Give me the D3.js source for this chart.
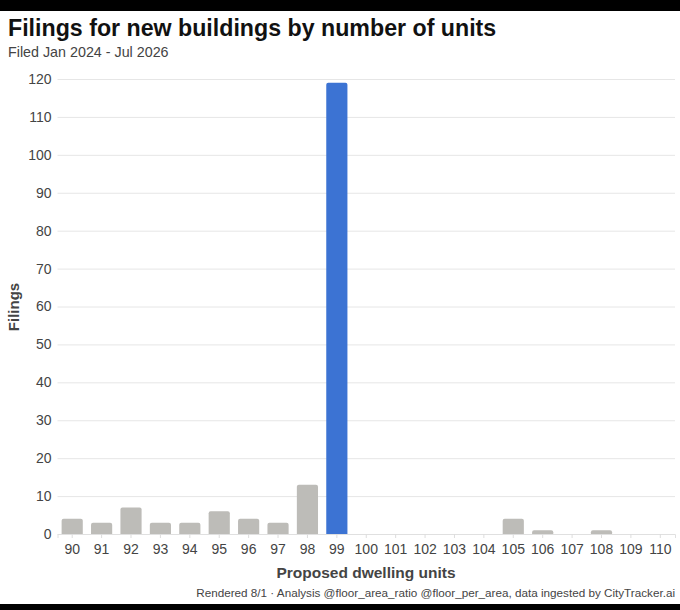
<!DOCTYPE html>
<html><head><meta charset="utf-8">
<script src="https://cdn.jsdelivr.net/npm/d3@7"></script>
<style>
html,body{margin:0;padding:0;background:#000;}
svg{display:block;}
</style></head>
<body>
<svg id="c" width="680" height="610"></svg>
<script>
const categories = ["90","91","92","93","94","95","96","97","98","99","100","101","102","103","104","105","106","107","108","109","110"];
const filings = [4,3,7,3,3,6,4,3,13,119,0,0,0,0,0,4,1,0,1,0,0];
const highlight = "99";
const yTicks = [0,10,20,30,40,50,60,70,80,90,100,110,120];

const svg = d3.select("#c");
const font = "'Liberation Sans', Arial, Helvetica, sans-serif";
svg.append("rect").attr("x",0).attr("y",11).attr("width",680).attr("height",593).attr("fill","#fff");

const x = d3.scaleBand().domain(categories).range([57.5,675]).paddingInner(0.28).paddingOuter(0.14);
const y = d3.scaleLinear().domain([0,120]).range([534,79]);

svg.append("text").attr("x",8).attr("y",36).attr("font-family",font).attr("font-weight","bold")
  .attr("font-size",23.2).attr("fill","#111").text("Filings for new buildings by number of units");
svg.append("text").attr("x",8).attr("y",57).attr("font-family",font)
  .attr("font-size",14.3).attr("fill","#444").text("Filed Jan 2024 - Jul 2026");

// grid
const ya = svg.append("g").attr("transform","translate(57.5,0)")
  .call(d3.axisLeft(y).tickValues(yTicks).tickSize(-(675-57.5)).tickPadding(6));
ya.select(".domain").remove();
ya.selectAll(".tick line").attr("stroke","#e6e6e6");
ya.selectAll(".tick text").attr("font-family",font).attr("font-size",14).attr("fill","#444");
ya.selectAll(".tick").filter(d=>d===0).select("line").attr("stroke","#ddd");

// bars
const r = 2;
svg.append("g").selectAll("path").data(categories.map((c,i)=>({c,v:filings[i]})).filter(d=>d.v>0))
  .join("path")
  .attr("d",d=>{
    const x0=x(d.c), w=x.bandwidth(), y0=y(d.v), y1=y(0);
    const rr=Math.min(r,(y1-y0));
    return `M${x0},${y1}V${y0+rr}Q${x0},${y0} ${x0+rr},${y0}H${x0+w-rr}Q${x0+w},${y0} ${x0+w},${y0+rr}V${y1}Z`;
  })
  .attr("fill",d=>d.c===highlight?"#3c73d3":"#bdbcb8");

// x axis
const xa = svg.append("g").attr("transform","translate(0,534)")
  .call(d3.axisBottom(x).tickSize(4).tickPadding(6));
xa.select(".domain").attr("stroke","#e0e0e0");
xa.selectAll(".tick line").attr("stroke","#ddd");
xa.selectAll(".tick text").attr("font-family",font).attr("font-size",14).attr("fill","#444");

svg.append("text").attr("x",366).attr("y",578).attr("text-anchor","middle").attr("font-family",font)
  .attr("font-weight","bold").attr("font-size",15.5).attr("fill","#444").text("Proposed dwelling units");
svg.append("text").attr("transform","translate(19,307) rotate(-90)").attr("text-anchor","middle").attr("font-family",font)
  .attr("font-weight","bold").attr("font-size",15).attr("fill","#444").text("Filings");
svg.append("text").attr("x",675).attr("y",597).attr("text-anchor","end").attr("font-family",font)
  .attr("font-size",11.7).attr("fill","#444").text("Rendered 8/1 · Analysis @floor_area_ratio @floor_per_area, data ingested by CityTracker.ai");
</script>
</body></html>
